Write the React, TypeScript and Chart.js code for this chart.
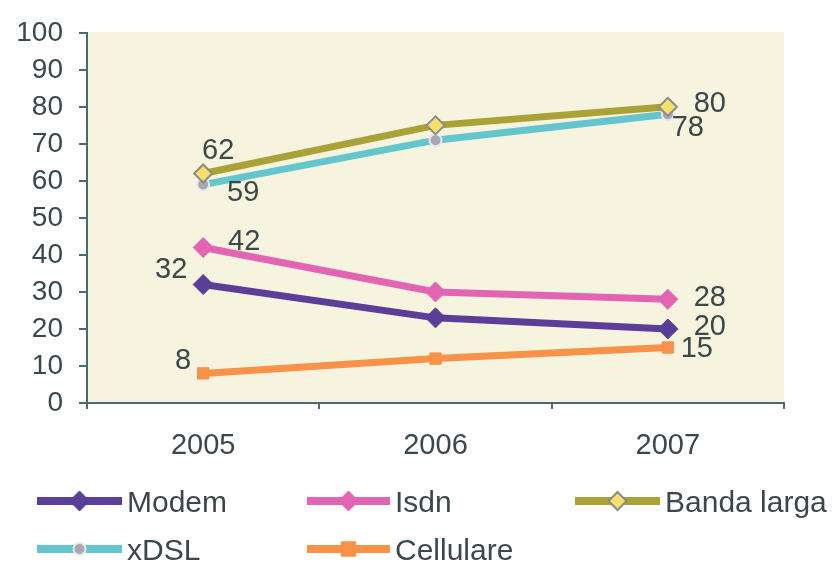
import React, { useEffect, useRef } from "react";
import { Chart, registerables } from "chart.js";

Chart.register(...registerables);

const years = ["2005", "2006", "2007"];
const modem = [32, 23, 20];
const isdn = [42, 30, 28];
const bandaLarga = [62, 75, 80];
const xdsl = [59, 71, 78];
const cellulare = [8, 12, 15];
const seriesNames = ["Modem", "Isdn", "Banda larga", "xDSL", "Cellulare"];
const yTicks = [0, 10, 20, 30, 40, 50, 60, 70, 80, 90, 100];

// label offsets (pixels from point) per series, per point
const labelOffsets = [
  [[-32, -15], [null, null], [42, -2]],
  [[41, -6], [null, null], [42, -1]],
  [[15, -22], [null, null], [42, -3]],
  [[40, 8], [null, null], [20, 14]],
  [[-20, -12], [null, null], [29, 2]],
];

const FONT = "'Liberation Sans', Arial, sans-serif";
const TEXT = "#3b4849";
const AXIS = "#4b6a70";

const styles = [
  { color: "#5a3e98", pointStyle: "rectRot", radius: 10, fill: "#5a3e98", border: "#5a3e98", bw: 1 },
  { color: "#e464b4", pointStyle: "rectRot", radius: 10, fill: "#e464b4", border: "#e464b4", bw: 1 },
  { color: "#aaa236", pointStyle: "rectRot", radius: 9, fill: "#f6df6c", border: "#8c8c86", bw: 2 },
  { color: "#62c6cc", pointStyle: "circle", radius: 6, fill: "#a9a7b2", border: "#e4e8ee", bw: 2 },
  { color: "#f89248", pointStyle: "rect", radius: 8, fill: "#f89248", border: "#f89248", bw: 1 },
];

// legend layout
const legendItems = [
  { x1: 37, x2: 122, y: 501 },
  { x1: 307, x2: 390, y: 501 },
  { x1: 575, x2: 660, y: 501 },
  { x1: 37, x2: 122, y: 549 },
  { x1: 307, x2: 390, y: 549 },
];

function drawMarker(ctx: CanvasRenderingContext2D, style: any, x: number, y: number) {
  ctx.save();
  ctx.fillStyle = style.fill;
  ctx.strokeStyle = style.border;
  ctx.lineWidth = style.bw;
  const r = style.radius;
  ctx.beginPath();
  if (style.pointStyle === "rectRot") {
    ctx.moveTo(x, y - r);
    ctx.lineTo(x + r, y);
    ctx.lineTo(x, y + r);
    ctx.lineTo(x - r, y);
    ctx.closePath();
  } else if (style.pointStyle === "rect") {
    const s = r * 0.9;
    ctx.rect(x - s, y - s, 2 * s, 2 * s);
  } else {
    ctx.arc(x, y, r, 0, Math.PI * 2);
  }
  ctx.fill();
  ctx.stroke();
  ctx.restore();
}

export default function App() {
  const ref = useRef<HTMLCanvasElement>(null);

  useEffect(() => {
    const canvas = ref.current!;
    const seriesData = [modem, isdn, bandaLarga, xdsl, cellulare];

    const bgPlugin = {
      id: "bg",
      beforeDraw(chart: any) {
        const { ctx, chartArea } = chart;
        ctx.save();
        ctx.fillStyle = "#ffffff";
        ctx.fillRect(0, 0, chart.width, chart.height);
        ctx.fillStyle = "#f6f3df";
        ctx.fillRect(chartArea.left, chartArea.top - 1, chartArea.right - chartArea.left, chartArea.bottom - chartArea.top + 1);
        ctx.restore();
      },
    };

    const labelPlugin = {
      id: "labels",
      afterDatasetsDraw(chart: any) {
        const ctx = chart.ctx;
        ctx.save();
        ctx.font = `29px ${FONT}`;
        ctx.fillStyle = TEXT;
        ctx.textAlign = "center";
        ctx.textBaseline = "middle";
        seriesData.forEach((arr, i) => {
          const meta = chart.getDatasetMeta(i);
          arr.forEach((v, j) => {
            const off = labelOffsets[i][j];
            if (off[0] === null) return;
            const pt = meta.data[j];
            ctx.fillText(String(v), pt.x + (off[0] as number), pt.y + (off[1] as number));
          });
        });
        ctx.restore();
      },
      afterDraw(chart: any) {
        const ctx = chart.ctx;
        ctx.save();
        legendItems.forEach((it, i) => {
          const st = styles[i];
          ctx.strokeStyle = st.color;
          ctx.lineWidth = 8;
          ctx.lineCap = "butt";
          ctx.beginPath();
          ctx.moveTo(it.x1, it.y);
          ctx.lineTo(it.x2, it.y);
          ctx.stroke();
          drawMarker(ctx, st, (it.x1 + it.x2) / 2, it.y);
          ctx.font = `30px ${FONT}`;
          ctx.fillStyle = TEXT;
          ctx.textAlign = "left";
          ctx.textBaseline = "middle";
          ctx.fillText(seriesNames[i], it.x2 + 5, it.y + 3);
        });
        ctx.restore();
      },
    };

    const chart = new Chart(canvas, {
      type: "line",
      data: {
        labels: years,
        datasets: seriesData.map((d, i) => ({
          label: seriesNames[i],
          data: d,
          borderColor: styles[i].color,
          borderWidth: 7,
          tension: 0,
          pointStyle: styles[i].pointStyle as any,
          pointRadius: styles[i].radius,
          pointBackgroundColor: styles[i].fill,
          pointBorderColor: styles[i].border,
          pointBorderWidth: styles[i].bw,
        })),
      },
      options: {
        responsive: false,
        animation: false,
        layout: { padding: { left: 0, top: 26, right: 52, bottom: 103 } },
        plugins: { legend: { display: false }, tooltip: { enabled: false } },
        scales: {
          x: {
            offset: true,
            grid: { offset: true, drawOnChartArea: false, drawTicks: true, tickLength: 6, color: AXIS, lineWidth: 2 },
            border: { display: true, color: AXIS, width: 2 },
            ticks: { color: TEXT, font: { family: FONT, size: 29 }, padding: 20 },
            afterFit(s: any) { s.height = 60; },
          },
          y: {
            min: 0,
            max: 100,
            afterBuildTicks(s: any) { s.ticks = yTicks.map((v) => ({ value: v })); },
            grid: { drawOnChartArea: false, drawTicks: true, tickLength: 8, color: AXIS, lineWidth: 2 },
            border: { display: true, color: AXIS, width: 2 },
            ticks: { color: TEXT, font: { family: FONT, size: 28 }, padding: 16 },
            afterFit(s: any) { s.width = 87; },
          },
        },
      },
      plugins: [bgPlugin, labelPlugin],
    });
    return () => chart.destroy();
  }, []);

  return (
    <div style={{ position: "fixed", left: 0, top: 0, width: 836, height: 566 }}>
      <canvas ref={ref} width={836} height={566} style={{ display: "block" }} />
    </div>
  );
}
